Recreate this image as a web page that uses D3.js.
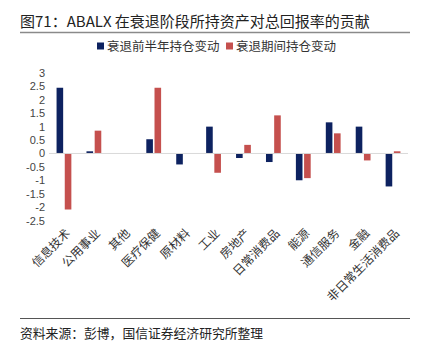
<!DOCTYPE html>
<html>
<head>
<meta charset="utf-8">
<script src="https://cdn.jsdelivr.net/npm/d3@7"></script>
<style>
  body { margin: 0; background: #fff; }
  text { font-family: "Noto Sans CJK SC", "Noto Sans", sans-serif; }
</style>
</head>
<body>
<div id="chart"></div>
<script>
const categories = ["信息技术", "公用事业", "其他", "医疗保健", "原材料", "工业", "房地产", "日常消费品", "能源", "通信服务", "金融", "非日常生活消费品"];
const before = [2.45, 0.08, 0, 0.53, -0.41, 1.0, -0.17, -0.32, -1.0, 1.16, 1.0, -1.23];
const during = [-2.09, 0.85, 0, 2.45, 0, -0.72, 0.32, 1.42, -0.92, 0.75, -0.26, 0.08];
const yTicks = [3, 2.5, 2, 1.5, 1, 0.5, 0, -0.5, -1, -1.5, -2, -2.5];
const seriesNames = ["衰退前半年持仓变动", "衰退期间持仓变动"];
const colors = ["#0d2260", "#c5504e"];

const width = 436, height = 354;
const svg = d3.select("#chart").append("svg")
  .attr("width", width).attr("height", height);

// 标题
svg.append("text")
  .attr("x", 20).attr("y", 27)
  .attr("font-size", 15).attr("fill", "#222")
  .text("图71：ABALX 在衰退阶段所持资产对总回报率的贡献");

svg.append("line")
  .attr("x1", 20).attr("x2", 410).attr("y1", 32.5).attr("y2", 32.5)
  .attr("stroke", "#8a8a8a").attr("stroke-width", 1.5);

// 图例
const legendX = [97, 226];
seriesNames.forEach((name, i) => {
  svg.append("rect")
    .attr("x", legendX[i]).attr("y", 42.5)
    .attr("width", 7).attr("height", 7)
    .attr("fill", colors[i]);
  svg.append("text")
    .attr("x", legendX[i] + 10).attr("y", 50.5)
    .attr("font-size", 12.5).attr("fill", "#333")
    .text(name);
});

const x = d3.scaleBand().domain(categories).range([49, 408]);
const y = d3.scaleLinear().domain([-2.5, 3]).range([220.5, 73]);

// 纵轴刻度
svg.append("g")
  .attr("transform", "translate(45,0)")
  .call(d3.axisLeft(y).tickValues(yTicks).tickSize(0).tickPadding(0)
    .tickFormat(d => d3.format("")(d).replace("−", "-")))
  .call(g => g.select(".domain").remove())
  .call(g => g.selectAll("text")
    .attr("font-size", 11).attr("fill", "#444")
    .style("font-family", "'Liberation Sans', Arial, sans-serif"));

// 柱子
const barW = 6.6;
const series = [before, during];
series.forEach((vals, s) => {
  svg.append("g").selectAll("rect")
    .data(vals.map((v, i) => ({ c: categories[i], v })))
    .join("rect")
    .attr("x", d => x(d.c) + x.bandwidth() / 2 - barW - 0.8 + s * (barW + 1.6))
    .attr("y", d => y(Math.max(0, d.v)))
    .attr("width", barW)
    .attr("height", d => Math.abs(y(d.v) - y(0)))
    .attr("fill", colors[s]);
});

// 零线
svg.append("line")
  .attr("x1", 49).attr("x2", 408)
  .attr("y1", y(0)).attr("y2", y(0))
  .attr("stroke", "#d9d9d9").attr("stroke-width", 1);

// 横轴标签
svg.append("g").selectAll("text")
  .data(categories)
  .join("text")
  .attr("transform", d => `translate(${x(d) + x.bandwidth() / 2 + 7},${234}) rotate(-45)`)
  .attr("text-anchor", "end")
  .attr("font-size", 12).attr("fill", "#333")
  .text(d => d);

// 底部
svg.append("line")
  .attr("x1", 20).attr("x2", 410).attr("y1", 318.5).attr("y2", 318.5)
  .attr("stroke", "#555").attr("stroke-width", 1);

svg.append("text")
  .attr("x", 20).attr("y", 338)
  .attr("font-size", 12.8).attr("fill", "#222")
  .text("资料来源：彭博，国信证券经济研究所整理");
</script>
</body>
</html>
